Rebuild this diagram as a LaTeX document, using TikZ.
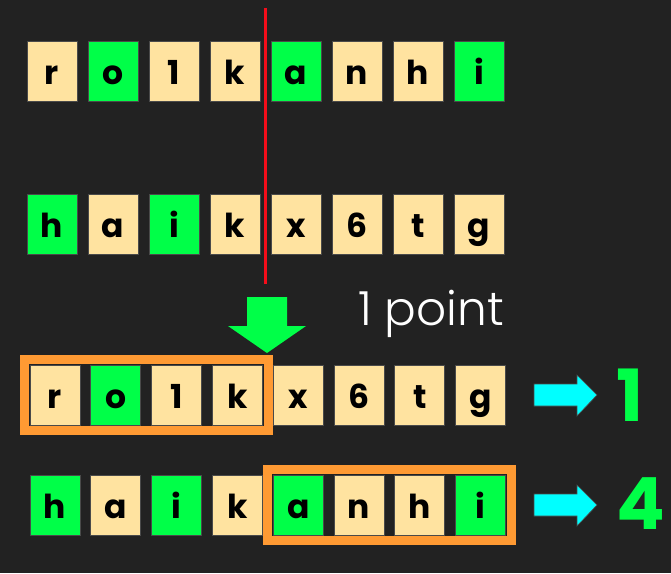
\documentclass[tikz,border=0pt]{standalone}
\usepackage{fontspec}
\setmainfont{Poppins}
\newfontfamily\pointfont{Poppins Light}
\usetikzlibrary{fit}
\definecolor{bgdark}{HTML}{222222}
\definecolor{cream}{HTML}{FFE3A0}
\definecolor{hitgreen}{HTML}{00FF48}
\definecolor{frameorange}{HTML}{FF9A33}
\definecolor{arrowcyan}{HTML}{00FFFF}
\definecolor{cutred}{HTML}{F50D1A}
\definecolor{edgegray}{HTML}{4A4A4A}
\tikzset{
	cell/.style={draw=edgegray, line width=0.8pt, fill=cream, minimum width=50pt, minimum height=60pt, inner sep=0pt, text height=27pt, text depth=0pt, font=\fontsize{33}{33}\selectfont\bfseries},
	hit/.style={cell, fill=hitgreen},
	frame/.style={draw=frameorange, line width=9pt, inner sep=5.5pt},
	score/.style={text=hitgreen, inner sep=0pt, text height=50pt, text depth=0pt, font=\fontsize{72}{72}\selectfont\bfseries},
	pointer/.style={fill=arrowcyan, draw=edgegray, line width=0.6pt}
}
\begin{document}
\begin{tikzpicture}[x=1pt, y=-1pt]
		\fill[bgdark] (0,0) rectangle (671,573);
		\useasboundingbox (0,0) rectangle (671,573);
		% first word
		\node[cell] (a1) at (52,71) {r};
		\node[hit]  (a2) at (113,71) {o};
		\node[cell] (a3) at (174,71) {1};
		\node[cell] (a4) at (235,71) {k};
		\node[hit]  (a5) at (296,71) {a};
		\node[cell] (a6) at (357,71) {n};
		\node[cell] (a7) at (418,71) {h};
		\node[hit]  (a8) at (479,71) {i};
		% second word
		\node[hit]  (b1) at (52,224) {h};
		\node[cell] (b2) at (113,224) {a};
		\node[hit]  (b3) at (174,224) {i};
		\node[cell] (b4) at (235,224) {k};
		\node[cell] (b5) at (296,224) {x};
		\node[cell] (b6) at (357,224) {6};
		\node[cell] (b7) at (418,224) {t};
		\node[cell] (b8) at (479,224) {g};
		% cut
		\coordinate (cuttop) at (265,8);
		\coordinate (cutbot) at (265,284);
		\draw[cutred, line width=3pt] (cuttop) -- (cutbot);
		% first child
		\node[cell] (c1) at (55,395) {r};
		\node[hit]  (c2) at (115.8,395) {o};
		\node[cell] (c3) at (176.6,395) {1};
		\node[cell] (c4) at (237.4,395) {k};
		\node[cell] (c5) at (298.2,395) {x};
		\node[cell] (c6) at (359,395) {6};
		\node[cell] (c7) at (419.8,395) {t};
		\node[cell] (c8) at (480.6,395) {g};
		% second child
		\node[hit]  (d1) at (55,505) {h};
		\node[cell] (d2) at (115.8,505) {a};
		\node[hit]  (d3) at (176.6,505) {i};
		\node[cell] (d4) at (237.4,505) {k};
		\node[hit]  (d5) at (298.2,505) {a};
		\node[cell] (d6) at (359,505) {n};
		\node[cell] (d7) at (419.8,505) {h};
		\node[hit]  (d8) at (480.6,505) {i};
		\node[frame, fit=(c1)(c4)] (keepc) {};
		\node[frame, fit=(d5)(d8)] (keepd) {};
		\fill[hitgreen] (247,297) -- (287,297) -- (287,326) -- (306,326) -- (267,353) -- (228,326) -- (247,326) -- cycle;
		\node[text=white, inner sep=0pt, anchor=base, font=\pointfont\fontsize{47}{47}\selectfont] (gain) at (431,325) {1 point};
		% scores
		\draw[pointer] (534,384) -- (577,384) -- (577,375) -- (597,395) -- (577,416) -- (577,406) -- (534,406) -- cycle;
		\draw[pointer] (534,494) -- (577,494) -- (577,485) -- (597,505) -- (577,526) -- (577,516) -- (534,516) -- cycle;
		\node[score] (one) at (630,396) {1};
		\node[score] (four) at (641,504) {4};
\end{tikzpicture}
\end{document}
